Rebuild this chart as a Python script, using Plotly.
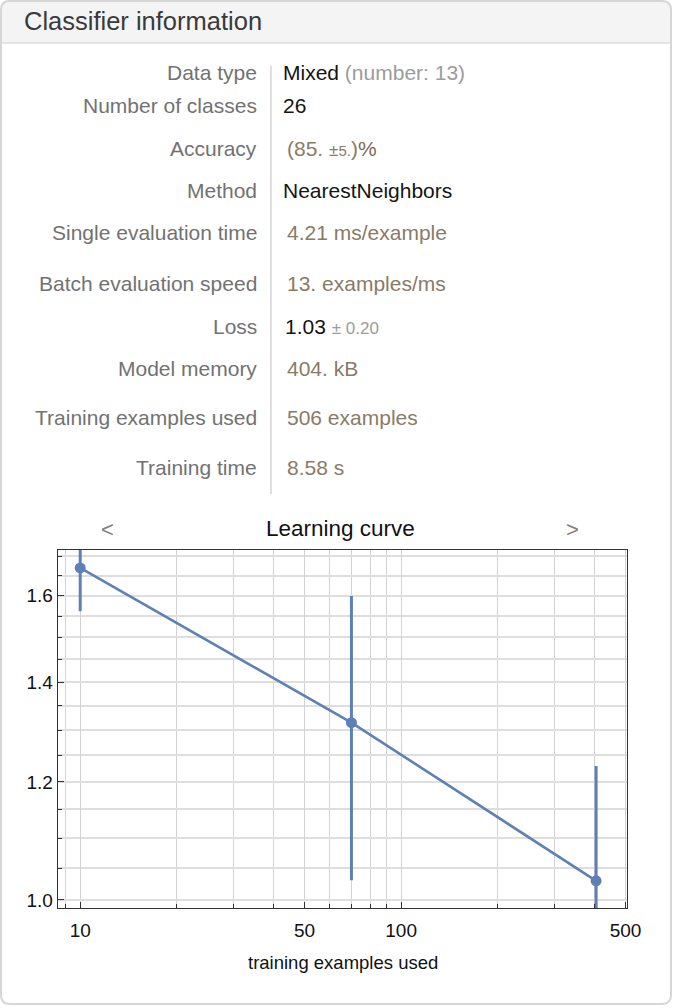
import plotly.graph_objects as go

W, H = 687, 1008

# ---- learning curve data ----
train_sizes = [10, 70, 405]
loss_values = [1.670, 1.315, 1.03]
loss_errors = [0.108, 0.284, 0.20]

x_major = [10, 50, 100, 500]
x_minor = [9, 20, 30, 40, 60, 70, 80, 90, 200, 300, 400]
y_major = [1.0, 1.2, 1.4, 1.6]
y_major_text = ["1.0", "1.2", "1.4", "1.6"]
y_minor = [1.05, 1.1, 1.15, 1.25, 1.3, 1.35, 1.45, 1.5, 1.55, 1.65, 1.7]

# ---- classifier summary table ----
row_labels = [
    "Data type", "Number of classes", "Accuracy", "Method",
    "Single evaluation time", "Batch evaluation speed", "Loss",
    "Model memory", "Training examples used", "Training time",
]
row_y = [73, 106, 149, 191, 233, 284, 327, 369, 418, 468]

LABEL = "#727272"
VALUE = "#141414"
QTY = "#8b7a66"
MUTED = "#9c9c9c"
FONT = "Liberation Sans, Arial, sans-serif"

row_values = [
    f"Mixed <span style='color:{MUTED}'>(number: 13)</span>",
    "26",
    f"<span style='color:{QTY}'>(85. <span style='font-size:17px'>±</span>"
    f"<span style='font-size:15px'>5.</span>)<span style='color:#7d6a55'>%</span></span>",
    "NearestNeighbors",
    f"<span style='color:{QTY}'>4.21 ms/example</span>",
    f"<span style='color:{QTY}'>13. examples/ms</span>",
    f"1.03 <span style='color:{MUTED};font-size:17px'>± 0.20</span>",
    f"<span style='color:{QTY}'>404. kB</span>",
    f"<span style='color:{QTY}'>506 examples</span>",
    f"<span style='color:{QTY}'>8.58 s</span>",
]
row_value_x = [288, 288, 292, 288, 292, 292, 290, 292, 292, 292]


def px(x):
    return x / W


def py(y):
    return 1 - y / H


fig = go.Figure()

fig.add_trace(go.Scatter(
    x=train_sizes, y=loss_values,
    mode="lines+markers",
    line=dict(color="#5e81b5", width=2.6),
    marker=dict(color="#5e81b5", size=11),
    error_y=dict(type="data", array=loss_errors, visible=True,
                 color="#5e81b5", thickness=3, width=0),
    showlegend=False,
    hoverinfo="x+y",
))

frame_col = "#333333"
fig.update_xaxes(
    type="log",
    range=[0.9299, 2.7028],
    domain=[px(59), px(640.7)],
    tickvals=x_major, ticktext=[str(v) for v in x_major],
    ticks="inside", ticklen=6, tickwidth=1, tickcolor=frame_col,
    showgrid=True, gridcolor="#d2d2d2", gridwidth=1,
    minor=dict(tickvals=x_minor, ticks="inside", ticklen=4,
               tickcolor=frame_col, showgrid=True,
               gridcolor="#d2d2d2", gridwidth=1),
    showline=True, linecolor=frame_col, linewidth=1.2, mirror=True,
    zeroline=False,
    tickfont=dict(family=FONT, size=19, color="#111"),
    ticklabelstandoff=5,
    anchor="y",
)
fig.update_yaxes(
    type="log",
    range=[-0.00555, 0.2350],
    domain=[py(910), py(550.7)],
    tickvals=y_major, ticktext=y_major_text,
    ticks="inside", ticklen=6, tickwidth=1, tickcolor=frame_col,
    showgrid=True, gridcolor="#dedede", gridwidth=1.6,
    minor=dict(tickvals=y_minor, ticks="inside", ticklen=4,
               tickcolor=frame_col, showgrid=True,
               gridcolor="#dedede", gridwidth=1.6),
    showline=True, linecolor=frame_col, linewidth=1.2, mirror=True,
    zeroline=False,
    tickfont=dict(family=FONT, size=19, color="#111"),
    anchor="x",
)

shapes = []
# outer panel with rounded corners
r = 9
x0, y0, x1, y1 = 1, 1, 686, 1006
panel = (f"M {px(x0+r)} {py(y0)} L {px(x1-r)} {py(y0)} "
         f"Q {px(x1)} {py(y0)} {px(x1)} {py(y0+r)} "
         f"L {px(x1)} {py(y1-r)} Q {px(x1)} {py(y1)} {px(x1-r)} {py(y1)} "
         f"L {px(x0+r)} {py(y1)} Q {px(x0)} {py(y1)} {px(x0)} {py(y1-r)} "
         f"L {px(x0)} {py(y0+r)} Q {px(x0)} {py(y0)} {px(x0+r)} {py(y0)} Z")
hb = 43
header = (f"M {px(x0+r)} {py(y0)} L {px(x1-r)} {py(y0)} "
          f"Q {px(x1)} {py(y0)} {px(x1)} {py(y0+r)} "
          f"L {px(x1)} {py(hb)} L {px(x0)} {py(hb)} "
          f"L {px(x0)} {py(y0+r)} Q {px(x0)} {py(y0)} {px(x0+r)} {py(y0)} Z")
shapes.append(dict(type="path", path=header, xref="paper", yref="paper",
                   fillcolor="#f4f4f4", line=dict(width=0), layer="below"))
shapes.append(dict(type="line", xref="paper", yref="paper",
                   x0=px(x0), x1=px(x1), y0=py(hb), y1=py(hb),
                   line=dict(color="#dcdcdc", width=1.5), layer="below"))
shapes.append(dict(type="path", path=panel, xref="paper", yref="paper",
                   line=dict(color="#d6d6d6", width=2), layer="below"))
# column separator in the table
shapes.append(dict(type="line", xref="paper", yref="paper",
                   x0=px(277), x1=px(277), y0=py(66), y1=py(495),
                   line=dict(color="#d4d4d4", width=1.5)))


def note(text, x, y, xanchor, size, color):
    return dict(text=text, x=px(x), y=py(y), xref="paper", yref="paper",
                xanchor=xanchor, yanchor="middle", showarrow=False,
                borderpad=0,
                font=dict(family=FONT, size=size, color=color))


annotations = [
    note("Classifier information", 24, 21, "left", 25.5, "#3a3a3a"),
    note("Learning curve", 348, 530, "center", 22.5, "#111"),
    note("&lt;", 110, 531, "center", 22, "#808080"),
    note("&gt;", 585, 531, "center", 22, "#808080"),
    note("training examples used", 351, 964, "center", 18.5, "#111"),
]
for lab, yy, val, vx in zip(row_labels, row_y, row_values, row_value_x):
    annotations.append(note(lab, 264, yy, "right", 21, LABEL))
    annotations.append(note(val, vx, yy, "left", 21, VALUE))

fig.update_layout(
    width=W, height=H, autosize=False,
    margin=dict(l=0, r=0, t=0, b=0, pad=0),
    paper_bgcolor="white", plot_bgcolor="white",
    shapes=shapes, annotations=annotations,
    font=dict(family=FONT),
)

fig.write_html(
    "out.html",
    config={"displayModeBar": False, "responsive": False},
    post_script="document.body.style.margin='0';"
                "document.documentElement.style.overflow='hidden';",
)
